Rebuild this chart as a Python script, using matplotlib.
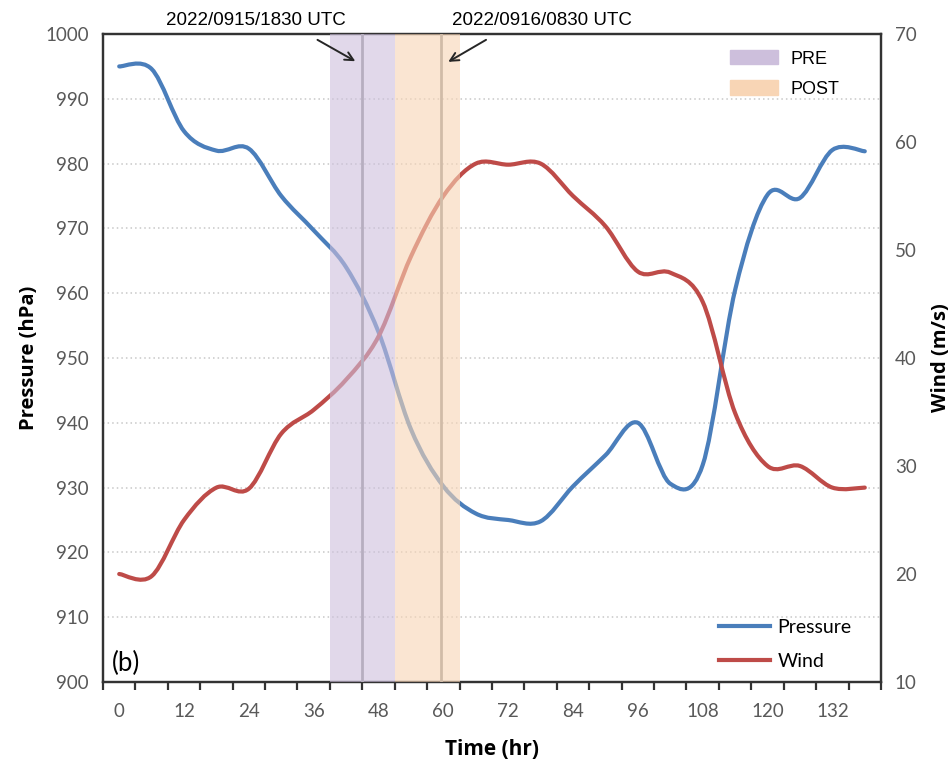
import numpy as np
import matplotlib
matplotlib.use("Agg")
import matplotlib.pyplot as plt
from matplotlib.path import Path
from matplotlib.patches import PathPatch, Patch
from matplotlib.lines import Line2D

# data: 6-hourly track values
hours = [0, 6, 12, 18, 24, 30, 36, 42, 48, 54, 60, 66, 72, 78, 84, 90, 96, 102, 108, 114, 120, 126, 132, 138]
pressure = [995, 994.6, 985, 982, 982.3, 975, 969.7, 964, 954, 939, 930.2, 926, 925, 924.8, 930.2, 935, 940, 930.6, 933.5, 960.5, 975.2, 974.7, 982.1, 981.9]
wind = [20.0, 19.8, 25, 28, 27.9, 33, 35.2, 38, 42, 49.4, 55, 58, 57.9, 58, 55, 52.2, 48, 47.9, 45.2, 34.9, 30, 30, 28, 28]

xticks = [0, 12, 24, 36, 48, 60, 72, 84, 96, 108, 120, 132]
pre_span = (39, 51)
post_span = (51, 63)
times = [45, 59.5]
time_labels = ["2022/0915/1830 UTC", "2022/0916/0830 UTC"]

blue = "#4a7ebb"
red = "#be4b48"
pre_col = "#cdbfdc"
post_col = "#f8d5b5"
tick_col = "#595959"
body = "Lato"
bold = "Open Sans"


def smooth_path(x, y):
    # Excel-style smoothed line: cubic bezier through every point
    x = np.asarray(x, float)
    y = np.asarray(y, float)
    n = len(x)
    verts = [(x[0], y[0])]
    codes = [Path.MOVETO]
    for i in range(n - 1):
        i0 = max(i - 1, 0)
        i3 = min(i + 2, n - 1)
        c1 = (x[i] + (x[i + 1] - x[i0]) / 6, y[i] + (y[i + 1] - y[i0]) / 6)
        c2 = (x[i + 1] - (x[i3] - x[i]) / 6, y[i + 1] - (y[i3] - y[i]) / 6)
        verts += [c1, c2, (x[i + 1], y[i + 1])]
        codes += [Path.CURVE4] * 3
    return Path(verts, codes)


fig = plt.figure(figsize=(9.53, 7.63), dpi=100)
ax = fig.add_axes([103 / 953, 1 - 682 / 763, 778 / 953, 648 / 763])
ax2 = ax.twinx()

ax.set_xlim(-3, 141)
ax.set_ylim(900, 1000)
ax2.set_ylim(10, 70)

ax.set_yticks(np.arange(900, 1001, 10))
ax2.set_yticks(np.arange(10, 71, 10))
ax.set_xticks(xticks)
ax.set_xticks(np.arange(-3, 142, 6), minor=True)
ax.tick_params(axis="x", which="major", length=0, pad=15)
ax.tick_params(axis="x", which="minor", length=6, width=1.6, color="#333333", direction="out")
ax.tick_params(axis="y", length=0, pad=10)
ax2.tick_params(axis="y", length=0, pad=10)
for a in (ax, ax2):
    for lab in a.get_xticklabels() + a.get_yticklabels():
        lab.set_fontfamily(body)
        lab.set_fontsize(13.5)
        lab.set_color(tick_col)
    for s in a.spines.values():
        s.set_color("#333333")
        s.set_linewidth(1.6)

ax.yaxis.grid(True, linestyle=(0, (1, 2)), color="#c8c8c8", linewidth=1.1)
ax.set_axisbelow(True)

ax.set_xlabel("Time (hr)", fontfamily=bold, fontweight="bold", fontsize=15, labelpad=14)
ax.set_ylabel("Pressure (hPa)", fontfamily=bold, fontweight="bold", fontsize=14.5, labelpad=5)
ax2.set_ylabel("Wind (m/s)", fontfamily=bold, fontweight="bold", fontsize=14.5, labelpad=10)

# lines, drawn on ax2 so the shading lies on top of both
ax2.add_patch(PathPatch(smooth_path(hours, pressure), fill=False, edgecolor=blue,
                        linewidth=3, transform=ax.transData, zorder=2, capstyle="round"))
ax2.add_patch(PathPatch(smooth_path(hours, wind), fill=False, edgecolor=red,
                        linewidth=3, transform=ax2.transData, zorder=2, capstyle="round"))

for t in times:
    ax2.axvline(t, color="#969696", linewidth=2, zorder=3)
ax2.axvspan(*pre_span, color=pre_col, alpha=0.6, linewidth=0, zorder=4)
ax2.axvspan(*post_span, color=post_col, alpha=0.6, linewidth=0, zorder=4)

# labels for the two times, with arrows pointing at the lines
top = ("data", "axes fraction")
ax2.text(25.3, 1.007, time_labels[0], transform=ax2.get_xaxis_transform(), ha="center", va="bottom",
         fontsize=13.5, family="Liberation Sans")
ax2.text(78.2, 1.007, time_labels[1], transform=ax2.get_xaxis_transform(), ha="center", va="bottom",
         fontsize=13.5, family="Liberation Sans")
arrow = dict(arrowstyle="->", color="#262626", lw=1.4, mutation_scale=15, shrinkA=0, shrinkB=0)
ax2.annotate("", xy=(43.7, 0.958), xycoords=top, xytext=(36.7, 0.991), textcoords=top,
             arrowprops=arrow, zorder=6)
ax2.annotate("", xy=(60.9, 0.957), xycoords=top, xytext=(67.9, 0.991), textcoords=top,
             arrowprops=arrow, zorder=6)

shade_leg = ax2.legend(handles=[Patch(color=pre_col, label="PRE"), Patch(color=post_col, label="POST")],
                       loc="upper left", bbox_to_anchor=(0.785, 1.0), frameon=False,
                       prop={"family": "Liberation Sans", "size": 13},
                       handlelength=2.67, handleheight=0.83, handletextpad=0.67, labelspacing=0.71)
ax2.add_artist(shade_leg)
ax2.legend(handles=[Line2D([], [], color=blue, lw=3, label="Pressure"),
                    Line2D([], [], color=red, lw=3, label="Wind")],
           loc="lower right", bbox_to_anchor=(0.985, -0.008), frameon=False,
           prop={"family": body, "size": 14}, handlelength=2.6, handletextpad=0.4, labelspacing=0.86)

ax.text(0.012, 0.01, "(b)", transform=ax.transAxes, fontsize=18.5, fontfamily=body, va="bottom")

fig.savefig("out.png", dpi=100)
